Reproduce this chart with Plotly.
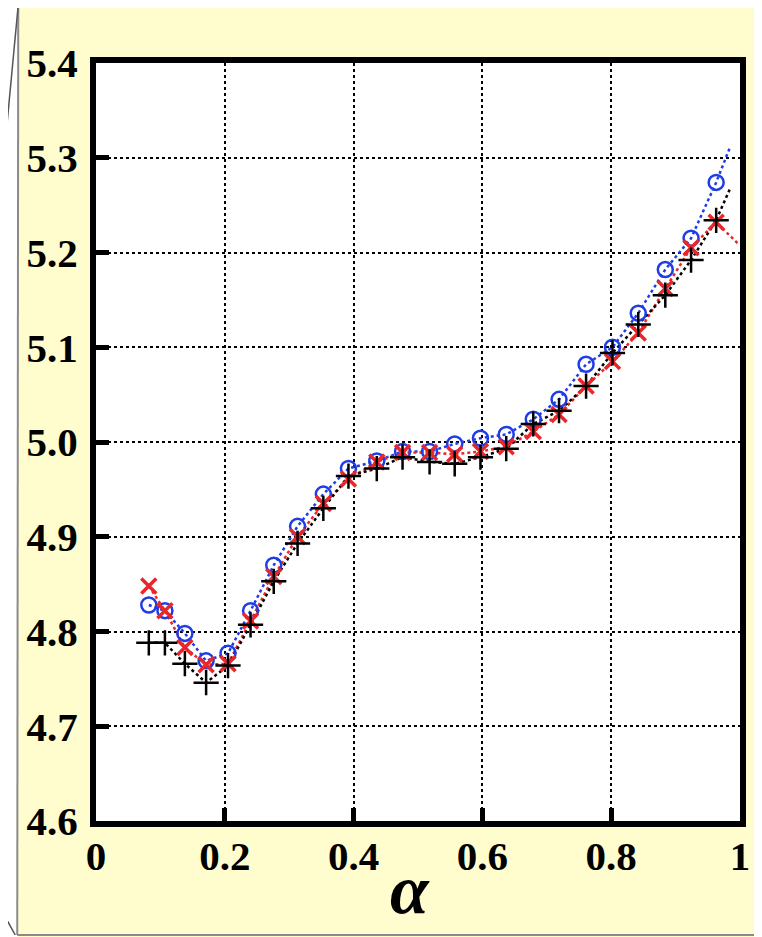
import plotly.graph_objects as go

# ---- data ----
alpha = [0.082, 0.107, 0.138, 0.171, 0.205, 0.240, 0.276, 0.313, 0.353, 0.392,
         0.436, 0.476, 0.518, 0.557, 0.597, 0.637, 0.679, 0.719, 0.761, 0.802,
         0.842, 0.884, 0.924, 0.963]
blue_vals = [4.828, 4.822, 4.798, 4.769, 4.777, 4.822, 4.870, 4.911, 4.945, 4.972,
             4.980, 4.990, 4.990, 4.998, 5.004, 5.008, 5.024, 5.045, 5.082, 5.100,
             5.136, 5.182, 5.215, 5.274]
red_vals = [4.848, 4.822, 4.783, 4.765, 4.766, 4.811, 4.858, 4.900, 4.935, 4.961,
            4.979, 4.989, 4.989, 4.987, 4.990, 4.995, 5.011, 5.029, 5.059, 5.085,
            5.115, 5.162, 5.205, 5.232]
black_vals = [4.788, 4.788, 4.766, 4.746, 4.764, 4.807, 4.853, 4.893, 4.930, 4.964,
              4.972, 4.984, 4.979, 4.977, 4.984, 4.993, 5.019, 5.033, 5.059, 5.094,
              5.124, 5.155, 5.192, 5.234]

# line tails beyond last marker
blue_tail_x, blue_tail_y = [0.985], [5.312]
red_tail_x, red_tail_y = [0.996], [5.210]
black_tail_x, black_tail_y = [0.985], [5.268]

x_ticks = [0, 0.2, 0.4, 0.6, 0.8, 1]
x_tick_text = ["0", "0.2", "0.4", "0.6", "0.8", "1"]
y_ticks = [4.6, 4.7, 4.8, 4.9, 5.0, 5.1, 5.2, 5.3, 5.4]
y_tick_text = ["4.6", "4.7", "4.8", "4.9", "5.0", "5.1", "5.2", "5.3", "5.4"]
x_title = "α"

BLUE = "#1f3de6"
RED = "#e8272b"
BLACK = "#000000"

# page offset of the figure (browser body margin)
OFF = 8
W, H = 762 - OFF, 937 - OFF
L, R, T, B = 96 - OFF, 20, 63 - OFF, 116
PW, PH = W - L - R, H - T - B


def px(xp):
    return (xp - OFF - L) / PW


def py(yp):
    return (OFF + H - B - yp) / PH


fig = go.Figure()

series = [
    ("blue", blue_vals, blue_tail_x, blue_tail_y, BLUE),
    ("red", red_vals, red_tail_x, red_tail_y, RED),
    ("black", black_vals, black_tail_x, black_tail_y, BLACK),
]
for name, vals, tx, ty, col in series:
    fig.add_trace(go.Scatter(x=alpha + tx, y=vals + ty, mode="lines",
                             line=dict(color=col, width=2.5, dash="dot"),
                             showlegend=False, hoverinfo="skip"))

fig.add_trace(go.Scatter(x=alpha, y=blue_vals, mode="markers",
                         marker=dict(symbol="circle-open", size=15, color=BLUE,
                                     line=dict(color=BLUE, width=2.5)),
                         showlegend=False))
fig.add_trace(go.Scatter(x=alpha, y=red_vals, mode="markers",
                         marker=dict(symbol="x-thin", size=15, color=RED,
                                     line=dict(color=RED, width=3.5)),
                         showlegend=False))
fig.add_trace(go.Scatter(x=alpha, y=black_vals, mode="markers",
                         marker=dict(symbol="cross-thin", size=18, color=BLACK,
                                     line=dict(color=BLACK, width=2.5)),
                         showlegend=False))

tick_font = dict(family="Liberation Serif", size=41, color="black")

fig.update_xaxes(range=[0, 1], tickvals=x_ticks,
                 ticktext=["<b>%s</b>" % t for t in x_tick_text],
                 tickfont=tick_font, ticks="inside", ticklen=13, tickwidth=5,
                 tickcolor="black", showline=True, linewidth=6, linecolor="black",
                 mirror=True, showgrid=True, gridcolor="black", gridwidth=1.5,
                 griddash="dot", zeroline=False, ticklabelstandoff=-6)
fig.update_yaxes(range=[4.6, 5.4], tickvals=y_ticks,
                 ticktext=["<b>%s</b>" % t for t in y_tick_text],
                 tickfont=tick_font, ticks="inside", ticklen=13, tickwidth=5,
                 tickcolor="black", showline=True, linewidth=6, linecolor="black",
                 mirror=True, showgrid=True, gridcolor="black", gridwidth=1.5,
                 griddash="dot", zeroline=False, ticklabelstandoff=4)

shapes = [
    # white areas outside the yellow panel
    dict(type="rect", xref="paper", yref="paper", x0=px(-5), x1=px(18), y0=py(H + 20), y1=py(-5),
         fillcolor="white", line=dict(width=0), layer="below"),
    dict(type="rect", xref="paper", yref="paper", x0=px(-5), x1=px(800), y0=py(5), y1=py(-5),
         fillcolor="white", line=dict(width=0), layer="below"),
    # panel border
    dict(type="line", xref="paper", yref="paper", x0=px(18), x1=px(800), y0=py(5), y1=py(5),
         line=dict(color="#8a8a8a", width=2)),
    dict(type="line", xref="paper", yref="paper", x0=px(18), x1=px(17), y0=py(5), y1=py(935),
         line=dict(color="#8a8a8a", width=2)),
    dict(type="line", xref="paper", yref="paper", x0=px(17), x1=px(800), y0=py(935), y1=py(935),
         line=dict(color="#8a8a8a", width=2)),
    # zoom connector lines
    dict(type="line", xref="paper", yref="paper", x0=px(18), x1=px(0), y0=py(5), y1=py(195),
         line=dict(color="#555555", width=1.5)),
    dict(type="line", xref="paper", yref="paper", x0=px(0), x1=px(15), y0=py(908), y1=py(935),
         line=dict(color="#555555", width=1.5)),
]

annotations = [
    dict(text="<b><i>%s</i></b>" % x_title, xref="paper", yref="paper",
         x=px(411), y=py(889), xanchor="center", yanchor="middle", showarrow=False,
         font=dict(family="Liberation Serif", size=70, color="black")),
]

fig.update_layout(width=W, height=H, margin=dict(l=L, r=R, t=T, b=B),
                  paper_bgcolor="#fffcce", plot_bgcolor="white",
                  shapes=shapes, annotations=annotations, showlegend=False)

fig.write_html("out.html")
